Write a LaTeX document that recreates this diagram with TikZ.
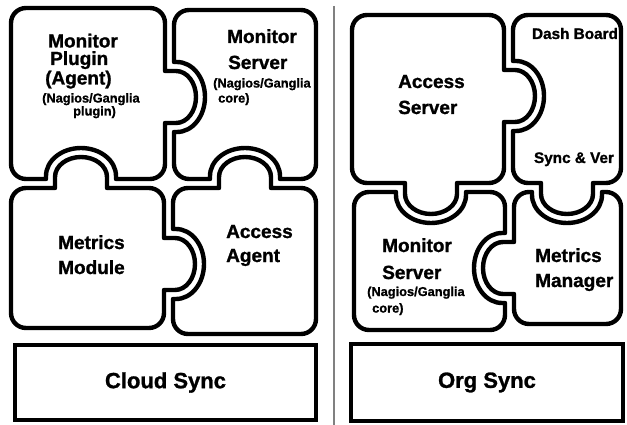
\documentclass[tikz,border=0pt]{standalone}
\usepackage{fontspec}
\setmainfont{Liberation Sans}[BoldFeatures={FakeBold=1.2}]

% puzzle geometry (units: 1pt, y grows downwards)
\newcommand{\pzR}{15}   % corner radius
\newcommand{\pzTw}{26}  % tab half-width along the edge
\newcommand{\pzTn}{11}  % tab stub length
\newcommand{\pzTh}{20}  % tab head depth
\newcommand{\pzSw}{35}  % socket half-width
\newcommand{\pzSn}{3}   % socket stub length
\newcommand{\pzSh}{28}  % socket head depth

% #1 = edge coordinate, #2 = centre of the bump along the edge
\newcommand{\tabRight}[2]{-- (#1,#2-\pzTw) -- (#1+\pzTn,#2-\pzTw) arc[start angle=-90,end angle=90,x radius=\pzTh,y radius=\pzTw] -- (#1,#2+\pzTw)}
\newcommand{\tabLeft}[2]{-- (#1,#2+\pzTw) -- (#1-\pzTn,#2+\pzTw) arc[start angle=90,end angle=270,x radius=\pzTh,y radius=\pzTw] -- (#1,#2-\pzTw)}
\newcommand{\tabTop}[2]{-- (#2-\pzTw,#1) -- (#2-\pzTw,#1-\pzTn) arc[start angle=180,end angle=360,x radius=\pzTw,y radius=\pzTh] -- (#2+\pzTw,#1)}
\newcommand{\tabBottom}[2]{-- (#2+\pzTw,#1) -- (#2+\pzTw,#1+\pzTn) arc[start angle=0,end angle=180,x radius=\pzTw,y radius=\pzTh] -- (#2-\pzTw,#1)}
\newcommand{\sockRight}[2]{-- (#1,#2-\pzSw) -- (#1-\pzSn,#2-\pzSw) arc[start angle=-90,end angle=-270,x radius=\pzSh,y radius=\pzSw] -- (#1,#2+\pzSw)}
\newcommand{\sockLeft}[2]{-- (#1,#2+\pzSw) -- (#1+\pzSn,#2+\pzSw) arc[start angle=90,end angle=-90,x radius=\pzSh,y radius=\pzSw] -- (#1,#2-\pzSw)}
\newcommand{\sockTop}[2]{-- (#2-\pzSw,#1) -- (#2-\pzSw,#1+\pzSn) arc[start angle=180,end angle=0,x radius=\pzSw,y radius=\pzSh] -- (#2+\pzSw,#1)}
\newcommand{\sockBottom}[2]{-- (#2+\pzSw,#1) -- (#2+\pzSw,#1-\pzSn) arc[start angle=0,end angle=-180,x radius=\pzSw,y radius=\pzSh] -- (#2-\pzSw,#1)}

% rounded piece x1,y1,x2,y2 with optional top/right/bottom/left bumps
\newcommand{\pzpiece}[8]{(#1,#2+\pzR) arc[start angle=180,end angle=270,radius=\pzR] #5 -- (#3-\pzR,#2) arc[start angle=270,end angle=360,radius=\pzR] #6 -- (#3,#4-\pzR) arc[start angle=0,end angle=90,radius=\pzR] #7 -- (#1+\pzR,#4) arc[start angle=90,end angle=180,radius=\pzR] #8 -- cycle}

\definecolor{divgray}{RGB}{128,128,128}

\tikzset{
  pzshape/.style={draw=black, line width=4.4pt, fill=white, line join=round},
  bigtext/.style={font=\fontsize{19}{19}\selectfont\bfseries, inner sep=0pt, anchor=base west},
  subtext/.style={font=\fontsize{12.8}{12.8}\selectfont\bfseries, inner sep=0pt, anchor=base west},
  midtext/.style={font=\fontsize{15.3}{15.3}\selectfont\bfseries, inner sep=0pt, anchor=base},
  syncbox/.style={draw=black, line width=4.4pt, fill=white, inner sep=0pt,
    font=\fontsize{22}{22}\selectfont\bfseries},
  divider/.style={draw=divgray, line width=1.8pt}
}

\begin{document}
\begin{tikzpicture}[x=1pt,y=-1pt]
\fill[white] (0,0) rectangle (627,425);
\useasboundingbox (0,0) rectangle (627,425);

% divider between the two stacks
\coordinate (divtop) at (334,6);
\coordinate (divbot) at (334,425);
\draw[divider] (divtop) -- (divbot);

% ---- left stack ----
\draw[pzshape] \pzpiece{11}{8}{165}{179}{}{\tabRight{165}{97}}{\sockBottom{179}{81}}{};
\draw[pzshape] \pzpiece{174}{10}{316}{179}{}{}{\sockBottom{179}{245}}{\sockLeft{174}{97}};
\draw[pzshape] \pzpiece{11}{188}{164}{328}{\tabTop{188}{81}}{\tabRight{164}{264}}{}{};
\draw[pzshape] \pzpiece{173}{188}{316}{334}{\tabTop{188}{245}}{}{}{\sockLeft{173}{264}};

\node[bigtext] (mpA) at (48,47.5) {Monitor};
\node[bigtext] (mpB) at (50,65) {Plugin};
\node[bigtext] (mpC) at (45,84.5) {(Agent)};
\node[subtext] (mpD) at (42,102.5) {(Nagios/Ganglia};
\node[subtext] (mpE) at (73,115.5) {plugin)};

\node[bigtext] (msA) at (227,43) {Monitor};
\node[bigtext] (msB) at (228,69) {Server};
\node[subtext] (msC) at (213,87.5) {(Nagios/Ganglia};
\node[subtext] (msD) at (218,102.5) {core)};

\node[bigtext] (mmA) at (58,249) {Metrics};
\node[bigtext] (mmB) at (58,274) {Module};

\node[bigtext] (aaA) at (226,238) {Access};
\node[bigtext] (aaB) at (226,262) {Agent};

\node[syncbox, minimum width=301pt, minimum height=75pt] (cloud) at (165.5,382.5) {Cloud Sync};

% ---- right stack ----
\draw[pzshape] \pzpiece{352}{15}{504}{183}{}{\tabRight{504}{96}}{\tabBottom{183}{431}}{};
\draw[pzshape] \pzpiece{513}{15}{621}{183}{}{}{\tabBottom{183}{567}}{\sockLeft{513}{96}};
\draw[pzshape] \pzpiece{354}{192}{505}{330}{\sockTop{192}{431}}{\sockRight{505}{268}}{}{};
\draw[pzshape] \pzpiece{514}{192}{621}{324}{\sockTop{192}{567}}{}{}{\tabLeft{514}{268}};

\node[bigtext] (asA) at (398,88) {Access};
\node[bigtext] (asB) at (398,114) {Server};

\node[midtext] (dbA) at (575,39) {Dash Board};
\node[midtext] (dbB) at (574,163) {Sync \& Ver};

\node[bigtext] (rsA) at (382,252) {Monitor};
\node[bigtext] (rsB) at (382,279) {Server};
\node[subtext] (rsC) at (367,296) {(Nagios/Ganglia};
\node[subtext] (rsD) at (372,312.5) {core)};

\node[bigtext] (mgA) at (535,262) {Metrics};
\node[bigtext] (mgB) at (535,287) {Manager};

\node[syncbox, minimum width=272pt, minimum height=77pt] (org) at (487,382.5) {Org Sync};
\end{tikzpicture}
\end{document}
